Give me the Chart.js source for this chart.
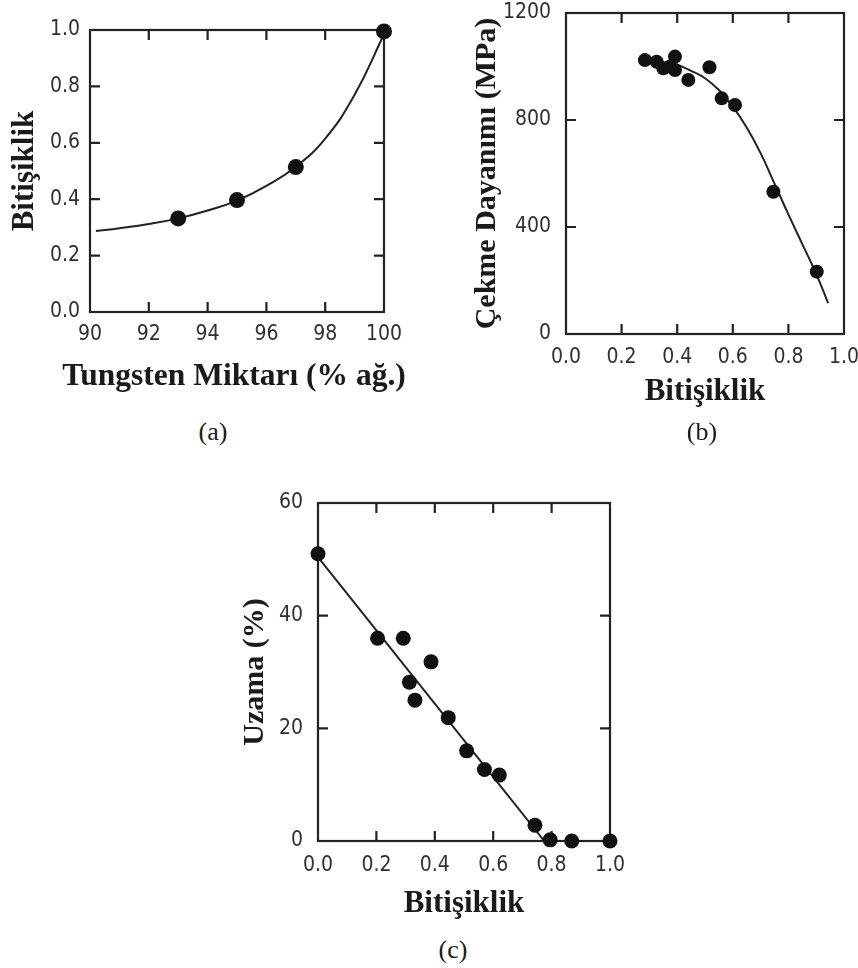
<!DOCTYPE html>
<html>
<head>
<meta charset="utf-8">
<script src="https://cdn.jsdelivr.net/npm/chart.js@4"></script>
<style>
  html, body { margin: 0; padding: 0; background: #ffffff; }
  body { width: 858px; height: 968px; position: relative; overflow: hidden; }
  canvas { position: absolute; }
  .cap { position: absolute; font-family: "Liberation Serif", "Times New Roman", serif; font-size: 26px; color: #1c1c1c; transform: translate(-50%, -50%); white-space: nowrap; }
</style>
</head>
<body>
<canvas id="ca" width="430" height="410" style="left:0px;top:0px"></canvas>
<canvas id="cb" width="428" height="420" style="left:430px;top:0px"></canvas>
<canvas id="cc" width="420" height="470" style="left:220px;top:460px"></canvas>
<div class="cap" style="left:213px;top:432px">(a)</div>
<div class="cap" style="left:702px;top:432px">(b)</div>
<div class="cap" style="left:453px;top:950px">(c)</div>
<script>
// ---------- data: panel (a) ----------
const aTitleX = 'Tungsten Miktarı (% ağ.)';
const aTitleY = 'Bitişiklik';
const aXTicks = [90, 92, 94, 96, 98, 100];
const aYTicks = [0.0, 0.2, 0.4, 0.6, 0.8, 1.0];
const aPointX = [93, 95, 97, 100];
const aPointY = [0.332, 0.397, 0.514, 0.995];
const aCurveX = [90.2, 91, 92, 93, 94, 95, 96, 97, 98, 99, 100];
const aCurveY = [0.287, 0.297, 0.312, 0.332, 0.360, 0.395, 0.447, 0.515, 0.615, 0.770, 0.985];

// ---------- data: panel (b) ----------
const bTitleX = 'Bitişiklik';
const bTitleY = 'Çekme Dayanımı (MPa)';
const bXTicks = [0.0, 0.2, 0.4, 0.6, 0.8, 1.0];
const bYTicks = [0, 400, 800, 1200];
const bPointX = [0.284, 0.326, 0.350, 0.374, 0.392, 0.392, 0.440, 0.516, 0.560, 0.608, 0.746, 0.902];
const bPointY = [1024, 1018, 993, 1000, 1037, 987, 950, 997, 881, 856, 532, 233];
const bCurveX = [0.40, 0.45, 0.50, 0.55, 0.60, 0.65, 0.70, 0.75, 0.80, 0.85, 0.90, 0.943];
const bCurveY = [1008, 984, 956, 912, 850, 772, 676, 562, 447, 336, 225, 115];

// ---------- data: panel (c) ----------
const cTitleX = 'Bitişiklik';
const cTitleY = 'Uzama (%)';
const cXTicks = [0.0, 0.2, 0.4, 0.6, 0.8, 1.0];
const cYTicks = [0, 20, 40, 60];
const cPointX = [0.0, 0.204, 0.292, 0.313, 0.332, 0.387, 0.446, 0.509, 0.570, 0.621, 0.743, 0.795, 0.869, 1.0];
const cPointY = [51, 36, 36, 28.2, 25, 31.8, 21.9, 16, 12.7, 11.7, 2.8, 0.2, 0, 0];
const cLineX = [0.0, 0.775, 1.0];
const cLineY = [50.4, 0, 0];

const zip = (xs, ys) => xs.map((x, i) => ({ x: x, y: ys[i] }));

const INK = '#222222';
const TICK_FONT = { family: '"DejaVu Sans Condensed", "DejaVu Sans", sans-serif', size: 21 };
const titleFont = s => ({ family: '"Liberation Serif", "Times New Roman", serif', size: s, weight: 'bold', lineHeight: 1.2 });

const frameTicks = {
  id: 'frameTicks',
  beforeDatasetsDraw(chart) {
    const { ctx, chartArea: a } = chart;
    const sx = chart.scales.x, sy = chart.scales.y;
    const L = 10;
    ctx.save();
    ctx.strokeStyle = INK;
    ctx.lineWidth = 2.2;
    ctx.strokeRect(a.left, a.top, a.right - a.left, a.bottom - a.top);
    ctx.beginPath();
    sx.ticks.forEach(t => {
      const p = sx.getPixelForValue(t.value);
      if (p <= a.left + 2 || p >= a.right - 2) return;
      ctx.moveTo(p, a.bottom); ctx.lineTo(p, a.bottom - L);
      ctx.moveTo(p, a.top); ctx.lineTo(p, a.top + L);
    });
    sy.ticks.forEach(t => {
      const p = sy.getPixelForValue(t.value);
      if (p <= a.top + 2 || p >= a.bottom - 2) return;
      ctx.moveTo(a.left, p); ctx.lineTo(a.left + L, p);
      ctx.moveTo(a.right, p); ctx.lineTo(a.right - L, p);
    });
    ctx.stroke();
    ctx.restore();
  }
};

// x-axis title drawn without the width limit Chart.js applies (the original title is wider than the plot)
const wideXTitle = {
  id: 'wideXTitle',
  afterDraw(chart, args, opts) {
    if (!opts || !opts.text) return;
    const sx = chart.scales.x;
    const f = titleFont(opts.size);
    const ctx = chart.ctx;
    ctx.save();
    ctx.font = 'bold ' + f.size + 'px ' + f.family;
    ctx.fillStyle = '#1a1a1a';
    ctx.textAlign = 'center';
    ctx.textBaseline = 'middle';
    ctx.fillText(opts.text, (sx.left + sx.right) / 2 + (opts.dx || 0), sx.bottom - f.size * f.lineHeight / 2);
    ctx.restore();
  }
};

function makeChart(id, o) {
  return new Chart(document.getElementById(id), {
    type: 'scatter',
    data: {
      datasets: [
        { data: zip(o.px, o.py), pointRadius: o.r, pointBackgroundColor: '#111111', pointBorderWidth: 0, showLine: false, clip: false },
        { data: zip(o.lx, o.ly), showLine: true, pointRadius: 0, borderColor: INK, borderWidth: 2,
          tension: o.tension, cubicInterpolationMode: 'default', clip: false }
      ]
    },
    options: {
      responsive: false,
      animation: false,
      layout: { padding: o.pad },
      plugins: {
        legend: { display: false }, tooltip: { enabled: false },
        wideXTitle: o.wide ? { text: o.tx, size: o.txs, dx: -3 } : { text: '' }
      },
      scales: {
        x: {
          type: 'linear', min: o.xt[0], max: o.xt[o.xt.length - 1],
          afterBuildTicks: s => { s.ticks = o.xt.map(v => ({ value: v })); },
          afterFit: s => { s.height = o.xh; s.paddingLeft = 0; s.paddingRight = 0; },
          grid: { display: false, drawTicks: false },
          border: { display: false },
          ticks: { font: TICK_FONT, color: '#303030', padding: o.xpad, maxRotation: 0, autoSkip: false,
                   callback: v => o.xfmt(v) },
          title: { display: !o.wide, text: o.tx, font: titleFont(o.txs), color: '#1a1a1a', padding: 0 }
        },
        y: {
          type: 'linear', min: o.yt[0], max: o.yt[o.yt.length - 1],
          afterBuildTicks: s => { s.ticks = o.yt.map(v => ({ value: v })); },
          afterFit: s => { s.width = o.yw; s.paddingTop = 0; s.paddingBottom = 0; },
          grid: { display: false, drawTicks: false },
          border: { display: false },
          ticks: { font: TICK_FONT, color: '#303030', padding: o.ypad, autoSkip: false,
                   callback: v => o.yfmt(v) },
          title: { display: true, text: o.ty, font: titleFont(o.tys), color: '#1a1a1a', padding: 0 }
        }
      }
    },
    plugins: [frameTicks, wideXTitle]
  });
}

const f0 = v => String(Math.round(v));
const f1 = v => (Math.round(v * 10) / 10).toFixed(1);

// (a) chart area: x 90..384, y 30..312
makeChart('ca', {
  px: aPointX, py: aPointY, lx: aCurveX, ly: aCurveY, r: 8, tension: 0.45,
  xt: aXTicks, yt: aYTicks, xfmt: f0, yfmt: f1, tx: aTitleX, ty: aTitleY, txs: 31.5, tys: 31, wide: true,
  pad: { left: 6, right: 46, top: 30, bottom: 14 }, yw: 84, xh: 84, xpad: 10, ypad: 10
});
// (b) chart area: x 566..844, y 13..334  (canvas left 430)
makeChart('cb', {
  px: bPointX, py: bPointY, lx: bCurveX, ly: bCurveY, r: 7, tension: 0.45,
  xt: bXTicks, yt: bYTicks, xfmt: f1, yfmt: f0, tx: bTitleX, ty: bTitleY, txs: 31, tys: 30,
  pad: { left: 39, right: 14, top: 13, bottom: 9 }, yw: 97, xh: 77, xpad: 11, ypad: 15
});
// (c) chart area: x 318..610, y 503..841  (canvas left 220, top 460)
makeChart('cc', {
  px: cPointX, py: cPointY, lx: cLineX, ly: cLineY, r: 7.5, tension: 0,
  xt: cXTicks, yt: cYTicks, xfmt: f1, yfmt: f0, tx: cTitleX, ty: cTitleY, txs: 31, tys: 30,
  pad: { left: 17, right: 30, top: 43, bottom: 7 }, yw: 81, xh: 82, xpad: 12, ypad: 15
});
</script>
</body>
</html>
